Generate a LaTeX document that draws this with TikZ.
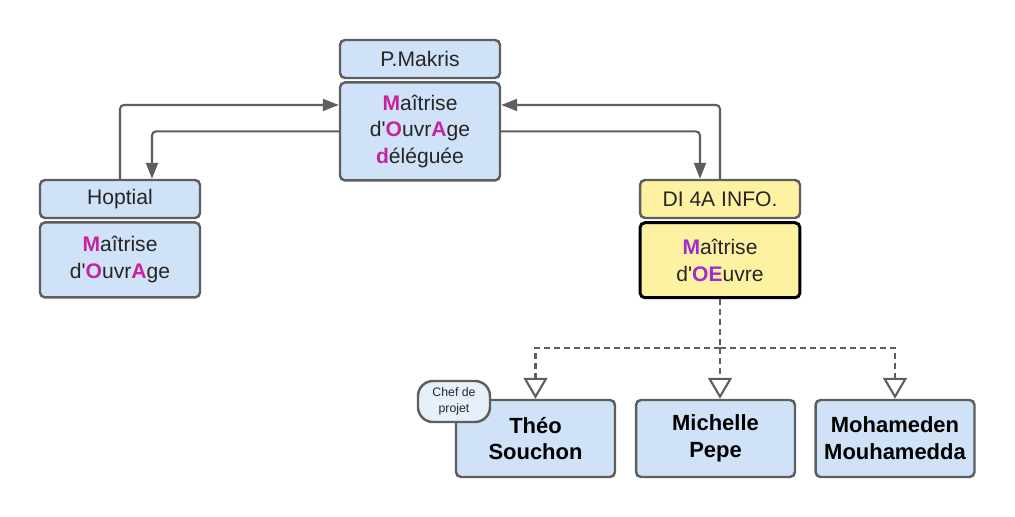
\documentclass[tikz,border=0pt]{standalone}
\usepackage{fontspec}
\setmainfont{Liberation Sans}
\usepackage{tikz}
\usetikzlibrary{positioning,arrows.meta}
\definecolor{boxblue}{HTML}{CFE2F8}
\definecolor{bubbleblue}{HTML}{E6F0FB}
\definecolor{boxyellow}{HTML}{FDF1A2}
\definecolor{edgegray}{HTML}{5E5E5E}
\definecolor{textdark}{HTML}{262626}
\definecolor{mag}{HTML}{C8229F}
\definecolor{purp}{HTML}{A02CCF}
\newcommand{\hl}[1]{\textbf{\textcolor{mag}{#1}}}
\newcommand{\hp}[1]{\textbf{\textcolor{purp}{#1}}}
\newcommand{\ap}{\textquotesingle}
\tikzset{head box/.style={rectangle,rounded corners=0.1cm,draw=edgegray,line width=1.4pt,
            fill=boxblue,minimum width=3.2cm,minimum height=0.76cm,inner sep=0pt,
            text=textdark,font=\fontsize{12}{14}\selectfont},
         body box/.style={head box,align=center,font=\fontsize{12}{15.3}\selectfont},
         name box/.style={body box,minimum width=3.18cm,minimum height=1.54cm,
            text=black,font=\fontsize{12.5}{15.3}\selectfont\bfseries},
         role tag/.style={rectangle,rounded corners=0.3cm,draw=edgegray,line width=1.4pt,
            fill=bubbleblue,minimum width=1.44cm,minimum height=0.82cm,inner sep=0pt,
            align=center,text=textdark,font=\fontsize{7}{9.1}\selectfont},
         link/.style={draw=edgegray,line width=1.2pt,rounded corners=0.08cm,
            -{Triangle[length=0.32cm,width=0.24cm]}},
         team link/.style={draw=edgegray,line width=1.2pt,dash pattern=on 0.12cm off 0.08cm,
            -{Triangle[length=0.42cm,width=0.48cm,fill=white,line width=1.2pt]}},
            }

\begin{document}
\begin{tikzpicture}[x=0.02cm,y=-0.02cm]
    \useasboundingbox (0,0) rectangle (1015,517);

    \node[head box] (makh) at (420,59) {P.Makris};
    \node[body box,minimum height=1.96cm,below=0.04cm of makh] (mak)
        {\hl{M}aîtrise\\d\ap\hl{O}uvr\hl{A}ge\\\hl{d}éléguée};

    \node[head box] (hoph) at (120,199) {Hoptial};
    \node[body box,minimum height=1.5cm,below=0.04cm of hoph] (hop)
        {\hl{M}aîtrise\\d\ap\hl{O}uvr\hl{A}ge};

    \node[head box,fill=boxyellow] (dih) at (720,199) {DI 4A INFO.};
    \node[body box,fill=boxyellow,draw=black,line width=1.7pt,minimum height=1.5cm,
        below=0.04cm of dih] (moe)
        {\hp{M}aîtrise\\d\ap\hp{OE}uvre};

    \node[name box] (theo) at (535.5,438.5) {Théo\\Souchon};
    \node[name box] (mich) at (715.5,438.5) {Michelle\\Pepe};
    \node[name box] (moha) at (895,438.5) {Mohameden\\Mouhamedda};
    \node[role tag] (chef) at (454,401.5) {Chef de\\projet};

    \coordinate (split) at (720,348);

    \path[link] (hoph.north) |- ([yshift=0.53cm]mak.west);
    \path[link] (mak.west) -| ([xshift=0.64cm]hoph.north);
    \path[link] (mak.east) -| ([xshift=-0.4cm]dih.north);
    \path[link] (dih.north) |- ([yshift=0.53cm]mak.east);

    \draw[edgegray,line width=1.2pt,dash pattern=on 0.12cm off 0.08cm]
        (moe.south) -- (split);
    \path[team link] (split) -| (theo.north);
    \path[team link] (split) -- (split |- mich.north);
    \path[team link] (split) -| (moha.north);
    %%
\end{tikzpicture}
\end{document}
